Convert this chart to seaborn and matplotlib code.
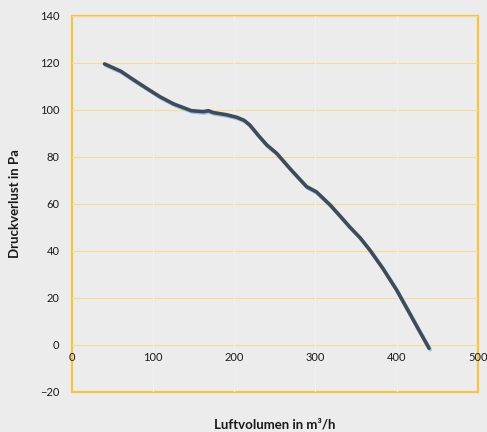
import pandas as pd
import matplotlib
matplotlib.use("Agg")
import matplotlib.pyplot as plt
import matplotlib.patheffects as pe
import seaborn as sns

# Kennlinie: Luftvolumen (m³/h) vs. Druckverlust (Pa)
luftvolumen = [40, 60, 76, 92, 108, 125, 147, 162, 168, 174, 190, 203, 212,
               219, 230, 240, 252, 270, 289, 301, 318, 330, 342, 355, 367,
               383, 400, 416, 428, 440]
druckverlust = [119.6, 116.5, 112.8, 109.2, 105.7, 102.6, 99.7, 99.3, 99.7,
                98.9, 98.0, 96.9, 95.6, 93.6, 89.0, 85.1, 81.6, 74.5, 67.4,
                65.2, 59.6, 55.0, 50.3, 45.6, 40.4, 32.6, 23.4, 13.5, 6.0, -1.4]

x_ticks = [0, 100, 200, 300, 400, 500]
y_ticks = [-20, 0, 20, 40, 60, 80, 100, 120, 140]

df = pd.DataFrame({"Luftvolumen": luftvolumen, "Druckverlust": druckverlust})

sns.set_style("white")
plt.rcParams["font.family"] = ["Lato", "DejaVu Sans"]

bg = "#ececec"
fig = plt.figure(figsize=(4.87, 4.32), dpi=100, facecolor=bg)
ax = fig.add_axes([0.148, 0.0926, 0.833, 0.8704])
ax.set_facecolor(bg)

# Rahmen in Gold
ax.patch.set_edgecolor("#f6c443")
ax.patch.set_linewidth(1.6)

# Gitterlinien
for y in y_ticks:
    ax.axhline(y, color="#f5dc96", lw=0.8, zorder=0)
for x in x_ticks[1:-1]:
    ax.axvline(x, color="#f0f0f0", lw=0.8, zorder=0)

sns.lineplot(data=df, x="Luftvolumen", y="Druckverlust", ax=ax,
             color="#3f4b58", lw=2.6, sort=False,
             path_effects=[pe.SimpleLineShadow(offset=(0.8, -1.0),
                                               shadow_color="#9cc2e8", alpha=1.0),
                           pe.Normal()])

ax.set_xlim(0, 500)
ax.set_ylim(-20, 140)
ax.set_xticks(x_ticks)
ax.set_yticks(y_ticks)

# x-Achse schneidet bei 0
ax.spines["bottom"].set_position(("data", 0))
for s in ["bottom", "top", "right", "left"]:
    ax.spines[s].set_visible(False)

ax.tick_params(axis="both", length=0, labelsize=8, colors="#1a1a1a")
ax.tick_params(axis="x", pad=5)
ax.tick_params(axis="y", pad=9)

ax.set_xlabel("Luftvolumen in m³/h", fontsize=9.5, fontweight="bold", color="#1a1a1a")
ax.set_ylabel("Druckverlust in Pa", fontsize=9.5, fontweight="bold", color="#1a1a1a")
ax.xaxis.set_label_coords(0.5, -0.07)
ax.yaxis.set_label_coords(-0.125, 0.5)

fig.savefig("out.png", dpi=100, facecolor=bg)
